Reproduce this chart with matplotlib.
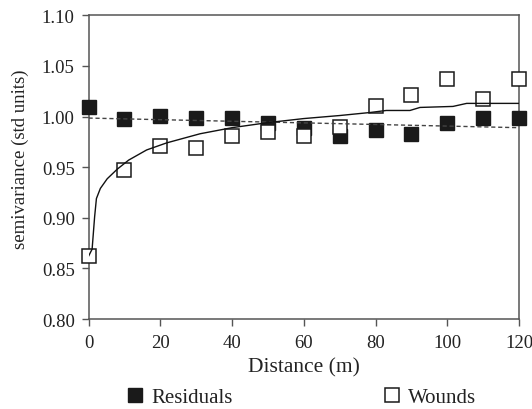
import matplotlib
matplotlib.use('Agg')
import matplotlib.pyplot as plt
from matplotlib.lines import Line2D

plt.rcParams['font.family'] = 'Liberation Serif'

# lag distances (m)
distance = [0, 10, 20, 30, 40, 50, 60, 70, 80, 90, 100, 110, 120]
residuals = [1.009, 0.998, 1.001, 0.999, 0.999, 0.994, 0.989, 0.981, 0.987, 0.983, 0.994, 0.999, 0.999]
wounds = [0.862, 0.947, 0.971, 0.969, 0.981, 0.985, 0.981, 0.990, 1.010, 1.021, 1.037, 1.017, 1.037]

# fitted lines
resid_fit_x = [0, 120]
resid_fit_y = [0.9985, 0.989]
wound_fit_x = [0, 1.0, 1.7, 2.2, 3.3, 5.2, 8.0, 11.2, 16.2, 21.8, 31.1, 40, 50,
               60, 70, 78.5, 83, 89.6, 92.4, 101.6, 105.4, 120]
wound_fit_y = [0.862, 0.869, 0.901, 0.919, 0.929, 0.9385, 0.948, 0.957, 0.967, 0.974,
               0.983, 0.989, 0.994, 0.998, 1.001, 1.004, 1.006, 1.006, 1.009, 1.010,
               1.013, 1.013]

xticks = [0, 20, 40, 60, 80, 100, 120]
yticks = [0.80, 0.85, 0.90, 0.95, 1.00, 1.05, 1.10]

fig = plt.figure(figsize=(5.32, 4.10), dpi=100)
ax = fig.add_axes([0.1664, 0.2195, 0.8092, 0.7407])

ax.plot(resid_fit_x, resid_fit_y, color='#444444', linestyle=(0, (3, 2)), linewidth=1.0, zorder=4)
ax.plot(wound_fit_x, wound_fit_y, color='#111111', linewidth=1.0, zorder=4)
ax.plot(distance, residuals, linestyle='none', marker='s', markersize=10.5,
        markerfacecolor='#1a1a1a', markeredgecolor='#1a1a1a', zorder=3, clip_on=False)
ax.plot(distance, wounds, linestyle='none', marker='s', markersize=10.5,
        markerfacecolor='white', markeredgecolor='#1a1a1a', markeredgewidth=1.1,
        zorder=3.5, clip_on=False)

ax.set_xlim(0, 120)
ax.set_ylim(0.80, 1.10)
ax.set_xticks(xticks)
ax.set_yticks(yticks)
ax.set_yticklabels(['%.2f' % v for v in yticks])

for s in ax.spines.values():
    s.set_color('#555555')
    s.set_linewidth(1.1)
ax.tick_params(direction='out', length=5, width=1.0, color='#555555',
               labelsize=13.5, labelcolor='#222222')
ax.tick_params(axis='y', pad=5)
ax.tick_params(axis='x', pad=5.5)

ax.set_xlabel('Distance (m)', fontsize=15.5, color='#222222', labelpad=5)
ax.set_ylabel('semivariance (std units)', fontsize=13.5, color='#222222')
ax.yaxis.set_label_coords(-0.138, 0.53)

handles = [
    Line2D([], [], linestyle='none', marker='s', markersize=10, markerfacecolor='#1a1a1a',
           markeredgecolor='#1a1a1a'),
    Line2D([], [], linestyle='none', marker='s', markersize=10, markerfacecolor='white',
           markeredgecolor='#1a1a1a', markeredgewidth=1.1),
]
fig.legend(handles, ['Residuals', 'Wounds'], ncol=2, loc='center',
           bbox_to_anchor=(0.566, 0.028), frameon=False, fontsize=15,
           handletextpad=0.33, columnspacing=7.2, handlelength=0.9,
           borderpad=0.1, labelcolor='#222222')

fig.savefig('out.png', dpi=100)
